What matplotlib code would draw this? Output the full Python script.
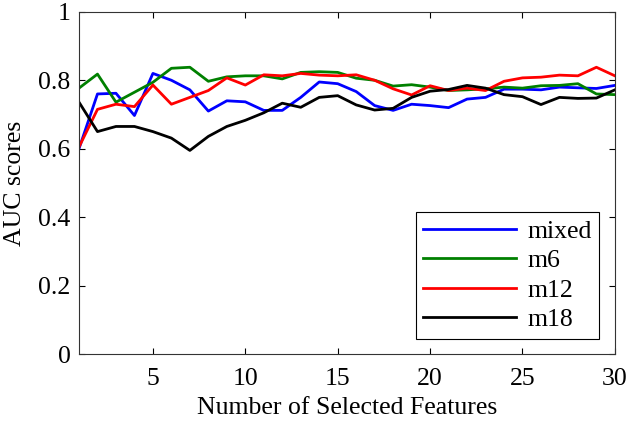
import numpy as np
import matplotlib
matplotlib.use("Agg")
from matplotlib import pyplot as plt

n_features = np.arange(1, 31)

mixed = [0.600, 0.760, 0.762, 0.697, 0.820, 0.800, 0.772, 0.710, 0.740, 0.737,
         0.712, 0.712, 0.750, 0.795, 0.790, 0.767, 0.726, 0.712, 0.730, 0.726,
         0.720, 0.745, 0.750, 0.774, 0.774, 0.772, 0.780, 0.778, 0.776, 0.785]
m6 = [0.777, 0.818, 0.736, 0.765, 0.794, 0.835, 0.838, 0.797, 0.810, 0.813,
      0.813, 0.804, 0.823, 0.825, 0.823, 0.806, 0.800, 0.783, 0.787, 0.780,
      0.770, 0.772, 0.775, 0.780, 0.777, 0.784, 0.785, 0.790, 0.760, 0.758]
m12 = [0.605, 0.715, 0.730, 0.723, 0.786, 0.730, 0.750, 0.770, 0.807, 0.786,
       0.816, 0.813, 0.820, 0.815, 0.813, 0.816, 0.800, 0.775, 0.757, 0.784,
       0.770, 0.777, 0.770, 0.797, 0.807, 0.809, 0.815, 0.813, 0.838, 0.813]
m18 = [0.736, 0.650, 0.665, 0.665, 0.650, 0.631, 0.595, 0.636, 0.665, 0.683,
       0.705, 0.733, 0.721, 0.750, 0.755, 0.728, 0.713, 0.718, 0.750, 0.768,
       0.773, 0.785, 0.777, 0.758, 0.752, 0.729, 0.750, 0.747, 0.748, 0.772]

series = [("mixed", mixed, "#0000ff"), ("m6", m6, "#008000"),
          ("m12", m12, "#ff0000"), ("m18", m18, "#000000")]

plt.rcParams['font.family'] = ['Liberation Serif', 'DejaVu Serif']
plt.rcParams['font.size'] = 18.5

fig = plt.figure(figsize=(6.3, 4.22), dpi=100)
ax = fig.add_axes([0.1254, 0.161, 0.8506, 0.811])

for name, vals, col in series:
    ax.plot(n_features, vals, color=col, lw=2, label=name)

ax.set_xlim(1, 30)
ax.set_ylim(0, 1)
ax.set_xticks([5, 10, 15, 20, 25, 30])
ax.set_yticks([0, 0.2, 0.4, 0.6, 0.8, 1])
ax.set_yticklabels(["0", "0.2", "0.4", "0.6", "0.8", "1"])
ax.tick_params(direction='in', top=True, right=True, length=4, width=0.8)
ax.tick_params(axis='x', pad=10)
ax.tick_params(axis='y', pad=6)
for s in ax.spines.values():
    s.set_linewidth(0.8)
    s.set_color('#333333')

ax.set_xlabel("Number of Selected Features", labelpad=5)
ax.set_ylabel("AUC scores", labelpad=9)

leg = ax.legend(loc='lower right', fancybox=False, edgecolor='black',
                handlelength=3.6, borderpad=0.3, labelspacing=0.25,
                handletextpad=0.45, borderaxespad=0.6, framealpha=1)
leg.get_frame().set_linewidth(0.8)

fig.savefig("out.png", dpi=100)
